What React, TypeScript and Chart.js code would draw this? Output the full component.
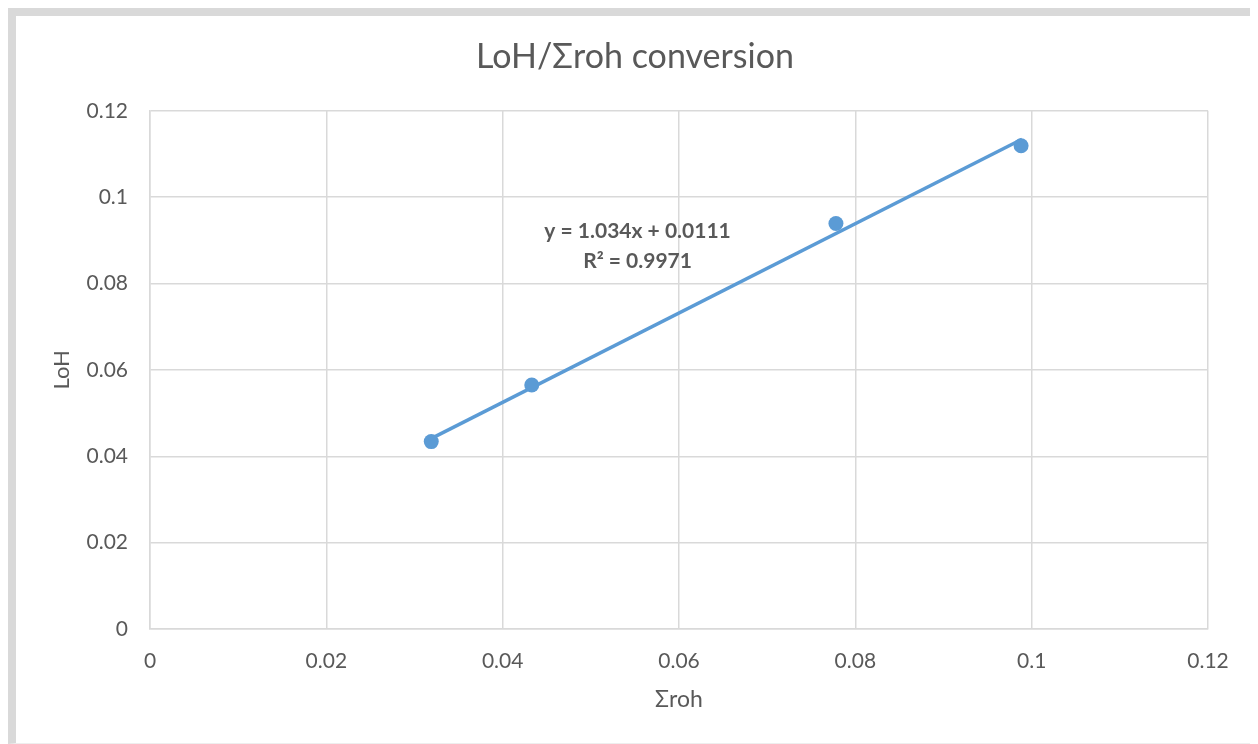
import React, { useEffect, useRef } from "react";
import { Chart, registerables } from "chart.js";

Chart.register(...registerables);

const TITLE = "LoH/Σroh conversion";
const X_TITLE = "Σroh";
const Y_TITLE = "LoH";

const sigmaRoh = [0.0319, 0.0433, 0.0778, 0.0988];
const loh = [0.0434, 0.0565, 0.0939, 0.1119];

const trendX = [0.0316, 0.0989];
const trendY = [0.0438, 0.1134];

const equationLines = ["y = 1.034x + 0.0111", "R² = 0.9971"];
const EQ_X = 0.0553;
const EQ_Y = [0.0920, 0.0851];

const AXIS_MIN = 0;
const AXIS_MAX = 0.12;
const AXIS_STEP = 0.02;

const FONT = "Lato, 'Open Sans', sans-serif";
const TEXT = "#595959";
const GRID = "#d9d9d9";
const BLUE = "#5b9bd5";

const equationPlugin = {
  id: "equationLabel",
  afterDatasetsDraw(chart: any) {
    const { ctx, scales } = chart;
    ctx.save();
    ctx.fillStyle = TEXT;
    ctx.font = `bold 21px ${FONT}`;
    ctx.textAlign = "center";
    ctx.textBaseline = "middle";
    const px = scales.x.getPixelForValue(EQ_X);
    equationLines.forEach((t, i) => {
      ctx.fillText(t, px, scales.y.getPixelForValue(EQ_Y[i]));
    });
    ctx.restore();
  },
};

export default function App() {
  const ref = useRef<HTMLCanvasElement | null>(null);

  useEffect(() => {
    if (!ref.current) return;
    const chart = new Chart(ref.current, {
      type: "scatter",
      data: {
        datasets: [
          {
            label: "Trendline",
            data: trendX.map((x, i) => ({ x, y: trendY[i] })),
            showLine: true,
            borderColor: BLUE,
            borderWidth: 3.5,
            pointRadius: 0,
            order: 0,
          },
          {
            label: Y_TITLE,
            data: sigmaRoh.map((x, i) => ({ x, y: loh[i] })),
            backgroundColor: BLUE,
            borderColor: BLUE,
            borderWidth: 0,
            pointRadius: 7.5,
            order: 1,
          },
        ],
      },
      options: {
        animation: false,
        responsive: false,
        layout: { padding: { left: 46, right: 46, top: 0, bottom: 0 } },
        plugins: {
          legend: { display: false },
          tooltip: { enabled: false },
          title: {
            display: true,
            text: TITLE,
            color: TEXT,
            font: { family: FONT, size: 34, weight: "normal" },
            padding: { top: 21, bottom: 33 },
          },
        },
        scales: {
          x: {
            type: "linear",
            min: AXIS_MIN,
            max: AXIS_MAX,
            ticks: {
              stepSize: AXIS_STEP,
              color: TEXT,
              font: { family: FONT, size: 21 },
              padding: 20,
              callback: (v: any) => String(Number(v.toFixed(2))),
            },
            grid: { color: GRID, lineWidth: 1.5, drawTicks: false },
            border: { color: GRID, width: 1.5 },
            title: {
              display: true,
              text: X_TITLE,
              color: TEXT,
              font: { family: FONT, size: 23 },
              padding: { top: 0, bottom: 30 },
            },
            afterFit: (s: any) => {
              s.height = 114;
            },
          },
          y: {
            type: "linear",
            min: AXIS_MIN,
            max: AXIS_MAX,
            ticks: {
              stepSize: AXIS_STEP,
              color: TEXT,
              font: { family: FONT, size: 21 },
              padding: 22,
              callback: (v: any) => String(Number(v.toFixed(2))),
            },
            grid: { color: GRID, lineWidth: 1.5, drawTicks: false },
            border: { color: GRID, width: 1.5 },
            title: {
              display: true,
              text: Y_TITLE,
              color: TEXT,
              font: { family: FONT, size: 22 },
              padding: { top: -13, bottom: 0 },
            },
            afterFit: (s: any) => {
              s.width = 88;
            },
          },
        },
      },
      plugins: [equationPlugin],
    });
    return () => chart.destroy();
  }, []);

  return (
    <div
      style={{
        width: 1238,
        height: 727,
        borderLeft: "8px solid #d9d9d9",
        borderTop: "8px solid #d9d9d9",
        borderRight: "2px solid #e3e3e3",
        borderBottom: "1px solid #eeeeee",
        background: "#fff",
      }}
    >
      <canvas ref={ref} width={1238} height={727} style={{ display: "block" }} />
    </div>
  );
}
